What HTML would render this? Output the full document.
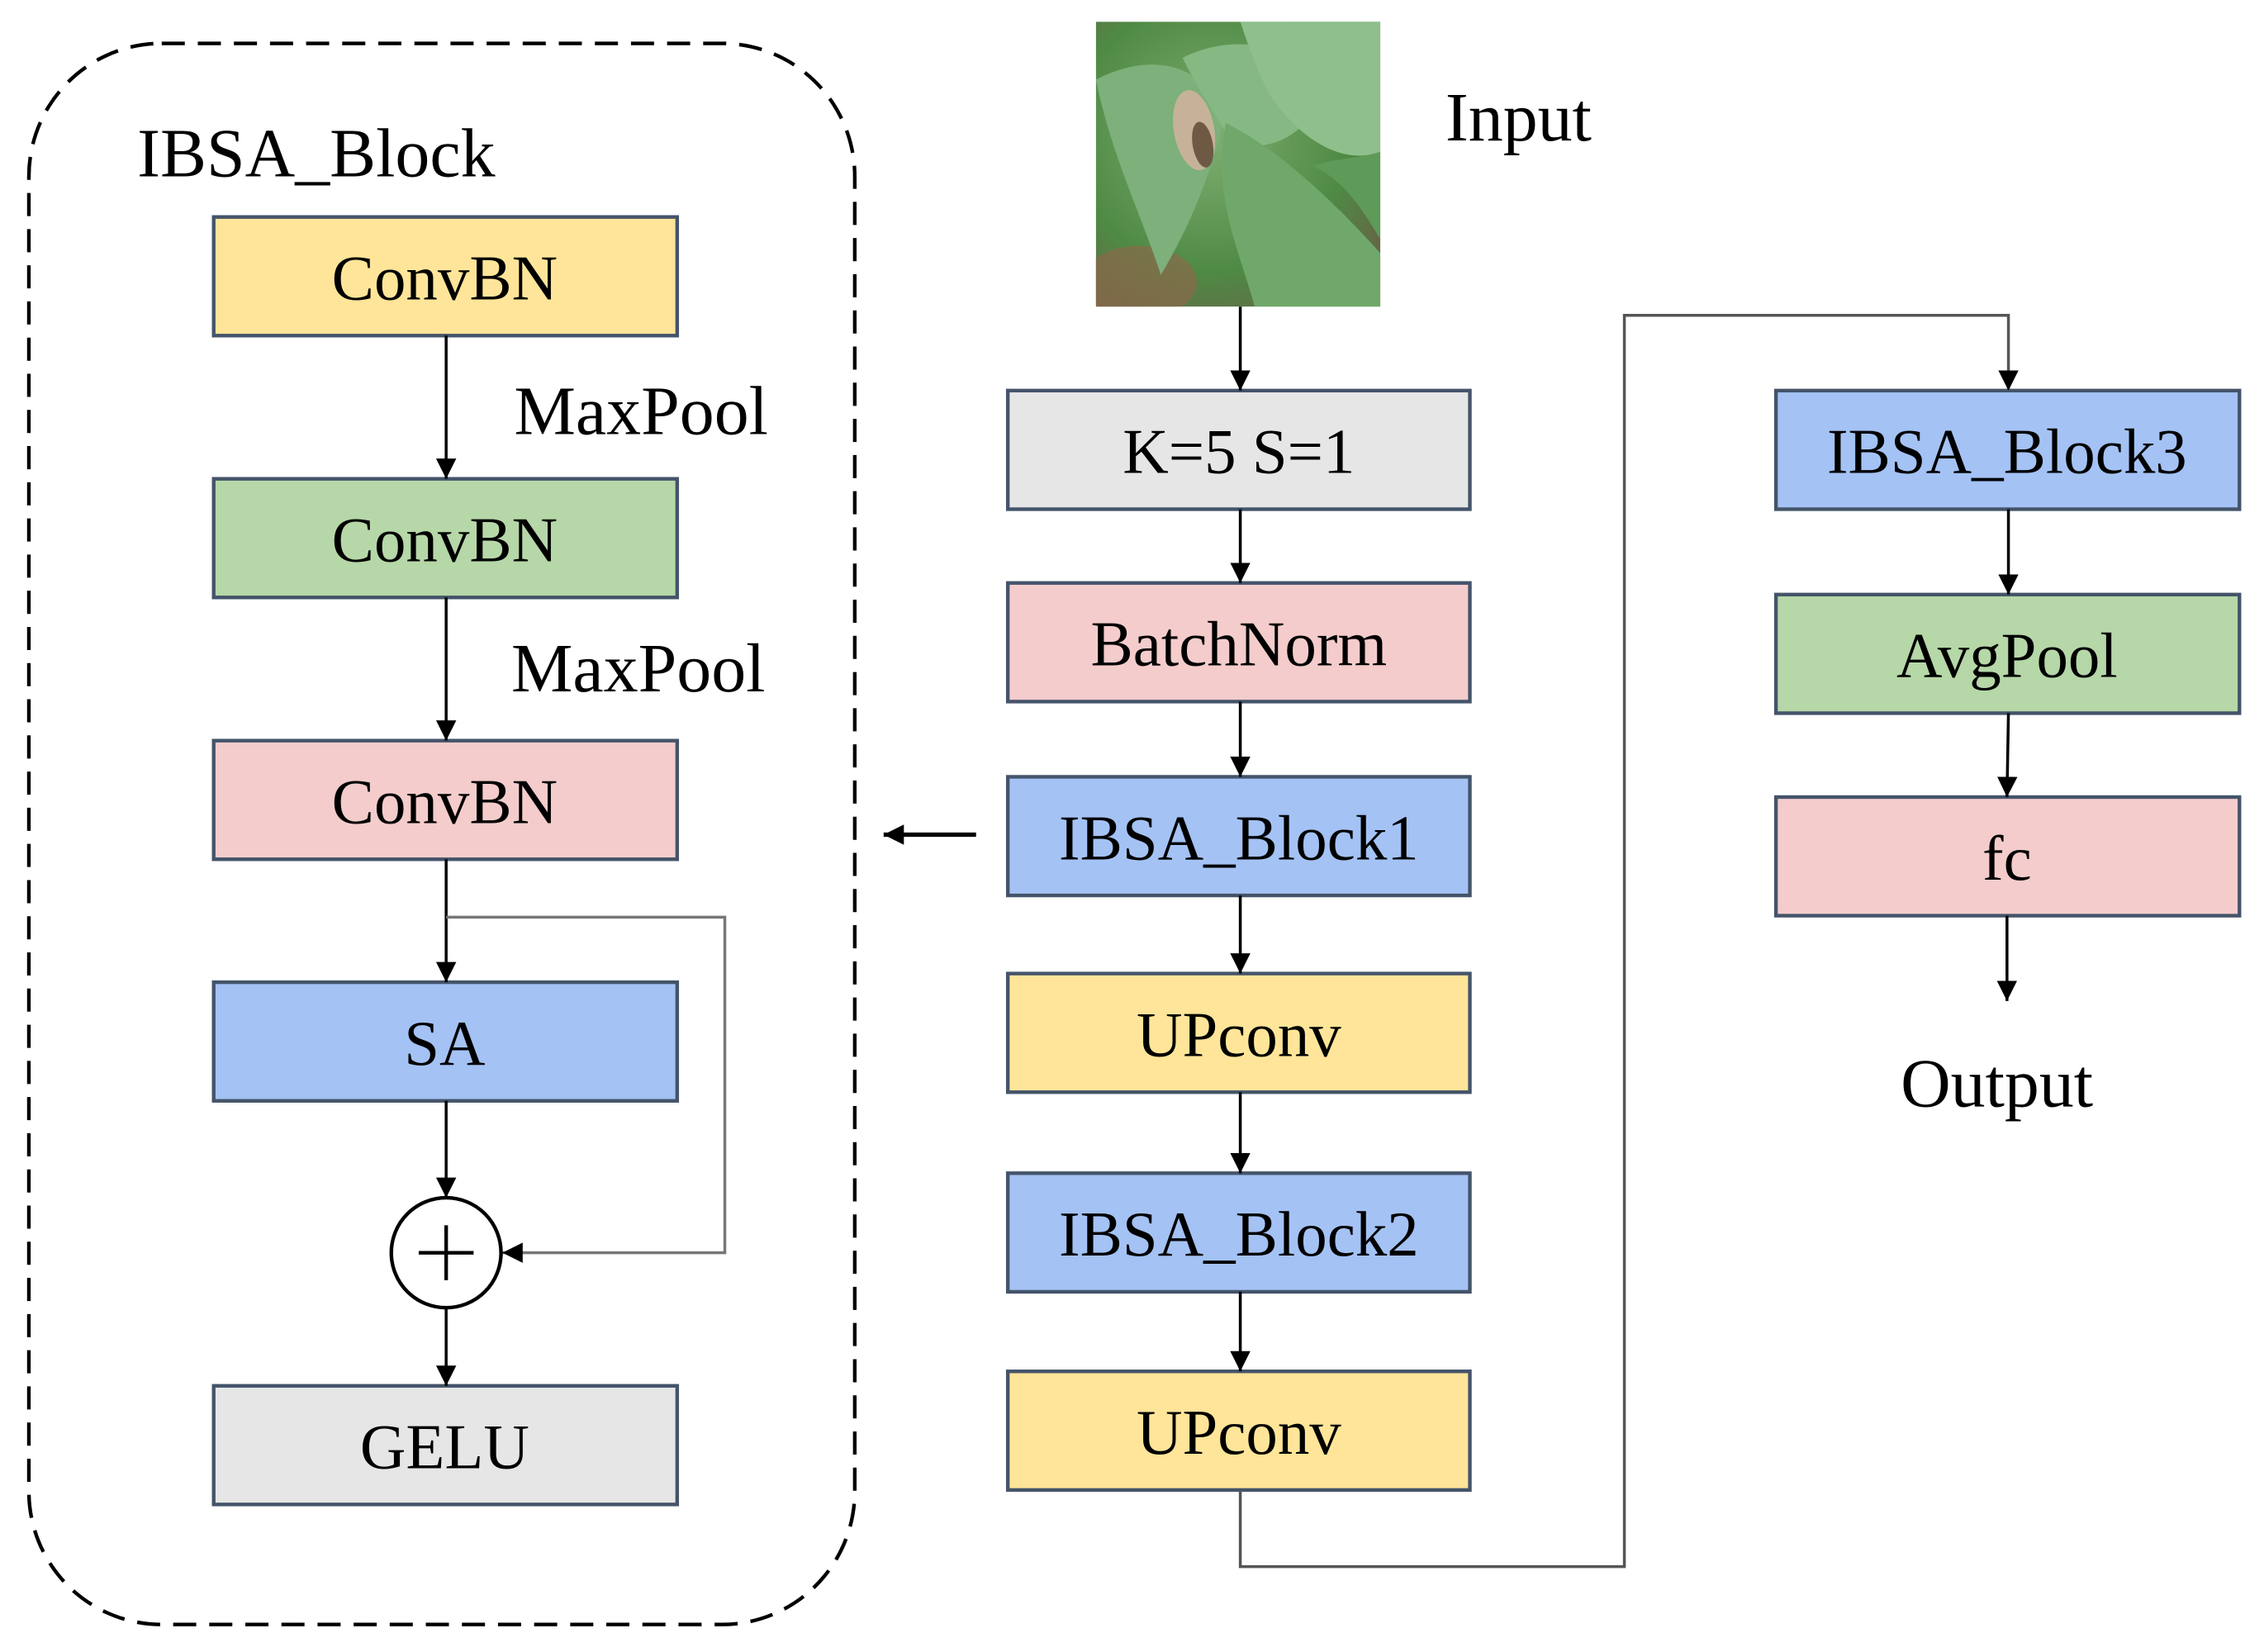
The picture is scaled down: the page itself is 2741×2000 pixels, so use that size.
<!DOCTYPE html>
<html><head><meta charset="utf-8"><style>
html,body{margin:0;padding:0;background:#fff;}
svg{display:block;}
text{font-family:"Liberation Serif",serif;fill:#000;}
</style></head><body>
<svg width="2741" height="2000" viewBox="0 0 1568 1142" preserveAspectRatio="none" xmlns="http://www.w3.org/2000/svg">
<defs>
<marker id="a" viewBox="0 0 10 10" refX="10" refY="5" markerWidth="5" markerHeight="5" markerUnits="userSpaceOnUse" orient="auto">
<path d="M0,0 L10,5 L0,10 z" fill="#000"/></marker>
<marker id="b" viewBox="0 0 10 10" refX="10" refY="5" markerWidth="14" markerHeight="14" markerUnits="userSpaceOnUse" orient="auto">
<path d="M0,0 L10,5 L0,10 z" fill="#000"/></marker>
<radialGradient id="bg" cx="0.4" cy="0.4" r="0.8">
<stop offset="0" stop-color="#7fae72"/><stop offset="0.6" stop-color="#4f8a45"/><stop offset="1" stop-color="#6b5a45"/></radialGradient>
</defs>
<!-- dashed container -->
<rect x="20" y="30" width="572" height="1093" rx="92" ry="92" fill="none" stroke="#000" stroke-width="2.5" stroke-dasharray="16,9"/>
<text x="95" y="122" font-size="48">IBSA_Block</text>

<g stroke="#44546A" stroke-width="2.5">
<rect x="148" y="150" width="321" height="82" fill="#FFE599"/>
<rect x="148" y="331" width="321" height="82" fill="#B6D7A8"/>
<rect x="148" y="512" width="321" height="82" fill="#F4CCCC"/>
<rect x="148" y="679" width="321" height="82" fill="#A4C2F4"/>
<rect x="148" y="958" width="321" height="82" fill="#E6E6E6"/>

<rect x="698" y="270" width="320" height="82" fill="#E6E6E6"/>
<rect x="698" y="403" width="320" height="82" fill="#F4CCCC"/>
<rect x="698" y="537" width="320" height="82" fill="#A4C2F4"/>
<rect x="698" y="673" width="320" height="82" fill="#FFE599"/>
<rect x="698" y="811" width="320" height="82" fill="#A4C2F4"/>
<rect x="698" y="948" width="320" height="82" fill="#FFE599"/>

<rect x="1230" y="270" width="321" height="82" fill="#A4C2F4"/>
<rect x="1230" y="411" width="321" height="82" fill="#B6D7A8"/>
<rect x="1230" y="551" width="321" height="82" fill="#F4CCCC"/>
</g>

<g font-size="44" text-anchor="middle">
<text x="308" y="207">ConvBN</text>
<text x="308" y="388">ConvBN</text>
<text x="308" y="569">ConvBN</text>
<text x="308" y="736">SA</text>
<text x="308" y="1015">GELU</text>
<text x="858" y="327">K=5 S=1</text>
<text x="858" y="460">BatchNorm</text>
<text x="858" y="594">IBSA_Block1</text>
<text x="858" y="730">UPconv</text>
<text x="858" y="868">IBSA_Block2</text>
<text x="858" y="1005">UPconv</text>
<text x="1390" y="327">IBSA_Block3</text>
<text x="1390" y="468">AvgPool</text>
<text x="1390" y="608">fc</text>
</g>
<g font-size="48">
<text x="356" y="300">MaxPool</text>
<text x="354" y="478">MaxPool</text>
<text x="1001" y="97">Input</text>
<text x="1383" y="765" text-anchor="middle">Output</text>
</g>

<!-- left arrows -->
<g stroke="#000" stroke-width="2" fill="none" marker-end="url(#b)">
<line x1="309" y1="232" x2="309" y2="331"/>
<line x1="309" y1="413" x2="309" y2="512"/>
<line x1="309" y1="594" x2="309" y2="679"/>
<line x1="309" y1="761" x2="309" y2="828"/>
<line x1="309" y1="904" x2="309" y2="958"/>
</g>
<path d="M309,634 H502 V866 H348" stroke="#777" stroke-width="2" fill="none" marker-end="url(#b)"/>
<circle cx="309" cy="866" r="38" fill="#fff" stroke="#000" stroke-width="2.5"/>
<line x1="290" y1="866" x2="328" y2="866" stroke="#000" stroke-width="2.5"/>
<line x1="309" y1="847" x2="309" y2="885" stroke="#000" stroke-width="2.5"/>
<line x1="676" y1="577" x2="612" y2="577" stroke="#000" stroke-width="3" marker-end="url(#b)"/>

<!-- middle arrows -->
<g stroke="#000" stroke-width="2" fill="none" marker-end="url(#b)">
<line x1="859" y1="212" x2="859" y2="270"/>
<line x1="859" y1="352" x2="859" y2="403"/>
<line x1="859" y1="485" x2="859" y2="537"/>
<line x1="859" y1="619" x2="859" y2="673"/>
<line x1="859" y1="755" x2="859" y2="811"/>
<line x1="859" y1="893" x2="859" y2="948"/>
<line x1="1391" y1="352" x2="1391" y2="411"/>
<line x1="1391" y1="493" x2="1390" y2="551"/>
<line x1="1390" y1="633" x2="1390" y2="692"/>
</g>
<path d="M859,1030 V1083 H1125 V218 H1391 V270" stroke="#555" stroke-width="2" fill="none" marker-end="url(#b)"/>

<!-- input image stand-in -->
<svg x="759" y="15" width="197" height="197" viewBox="0 0 197 197">
<rect width="197" height="197" fill="url(#bg)"/>
<ellipse cx="30" cy="180" rx="40" ry="25" fill="#8a6a4a" opacity="0.7"/>
<path d="M0,40 C40,20 70,30 90,60 C80,110 60,150 45,175 C30,130 10,90 0,40z" fill="#7db07a"/>
<path d="M60,25 C100,5 140,20 160,40 C150,80 120,90 95,85 C80,60 70,45 60,25z" fill="#86b884"/>
<path d="M100,0 H197 V90 C170,100 140,80 120,50 C110,30 105,15 100,0z" fill="#8fbf8c"/>
<path d="M90,70 C130,90 170,130 197,160 V197 H110 C100,160 80,120 90,70z" fill="#6fa86a"/>
<path d="M150,100 C175,110 190,140 197,150 V90 C180,95 160,95 150,100z" fill="#5e9a58"/>
<ellipse cx="68" cy="75" rx="14" ry="28" fill="#c6b299" transform="rotate(-10 68 75)"/>
<ellipse cx="74" cy="85" rx="7" ry="16" fill="#6e5a44" transform="rotate(-10 74 85)"/>
</svg>
</svg>
</body></html>
